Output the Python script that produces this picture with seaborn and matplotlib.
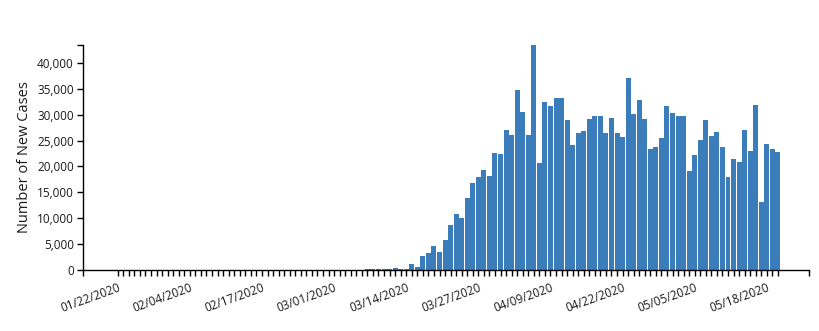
import matplotlib
matplotlib.use("Agg")
import matplotlib.pyplot as plt
import seaborn as sns
import pandas as pd
import numpy as np

# Daily new cases, 01/22/2020 .. 05/20/2020 (120 days)
start_date = "2020-01-22"
n_days = 120
new_cases = (
    [0] * 39 +                                        # 01/22 .. 02/29
    [10, 20, 25, 30, 60, 90, 100, 110] +              # 03/01 .. 03/08
    [200, 200, 200, 390, 200, 200, 1160, 580, 2700,   # 03/09 .. 03/17
     3280, 4640, 3480, 5800, 8690, 10820, 10050,      # 03/18 .. 03/24
     13910, 16810, 17970, 19320, 18160, 22600, 22410, # 03/25 .. 03/31
     27050, 26080, 34780, 30530, 26080, 43438, 20670, # 04/01 .. 04/07
     32460, 31680, 33230, 33230, 28980, 24150, 26470, # 04/08 .. 04/14
     26850, 29170, 29750, 29750, 26470, 29370, 26470, # 04/15 .. 04/21
     25700, 37090, 30140, 32840, 29170, 23380, 23760, # 04/22 .. 04/28
     25500, 31680, 30330, 29750, 29750, 19130, 22220, # 04/29 .. 05/05
     25120, 28980, 25890, 26660, 23760, 17970, 21450, # 05/06 .. 05/12
     20870, 27050, 22990, 31880, 13140, 24340, 23380, # 05/13 .. 05/19
     22800]                                           # 05/20
)
dates = pd.date_range(start_date, periods=n_days, freq="D")
date_labels = [d.strftime("%m/%d/%Y") for d in dates]
label_every = 13
y_ticks = [0, 5000, 10000, 15000, 20000, 25000, 30000, 35000, 40000]
y_label = "Number of New Cases"

df = pd.DataFrame({"date": date_labels, "cases": new_cases})

sns.set_style("white")
plt.rcParams["font.family"] = ["Open Sans", "DejaVu Sans"]

W, H = 819, 331
fig = plt.figure(figsize=(W / 100, H / 100), dpi=100)
ax_left, ax_right, ax_top, ax_bottom = 83, 809, 45, 270
ax = fig.add_axes([ax_left / W, (H - ax_bottom) / H,
                   (ax_right - ax_left) / W, (ax_bottom - ax_top) / H])

bar_color = "#3a7dba"
sns.barplot(data=df, x="date", y="cases", order=date_labels, color=bar_color,
            saturation=1, width=0.9, ax=ax, linewidth=0)

x_lo, x_hi = -6.26, 124.6
y_hi = max(new_cases)
ax.set_xlim(x_lo, x_hi)
ax.set_ylim(0, y_hi)

# day ticks plus the axis-end (outer) ticks
ax.set_xticks([x_lo] + list(range(n_days)) + [x_hi])
ax.set_xticklabels([""] + [lab if i % label_every == 0 else "" for i, lab in enumerate(date_labels)] + [""],
                   rotation=20, ha="right", rotation_mode="anchor")
ax.set_yticks(y_ticks + [y_hi])
ax.set_yticklabels([f"{v:,}" for v in y_ticks] + [""])

text_color = "#1a1a1a"
ax.tick_params(axis="both", which="both", length=4.2, width=1, color="black",
               labelsize=8.5, labelcolor=text_color, direction="out", pad=2.5)
ax.tick_params(axis="x", pad=4)
ax.tick_params(left=True, bottom=True)

ax.set_xlabel("")
ax.set_ylabel(y_label, fontsize=10.5, color=text_color)
ax.yaxis.set_label_coords((25 - ax_left) / (ax_right - ax_left), 0.5)
ax.yaxis.label.set_va("center")

for side in ["top", "right"]:
    ax.spines[side].set_visible(False)
for side in ["left", "bottom"]:
    ax.spines[side].set_color("black")
    ax.spines[side].set_linewidth(1)

ax.grid(False)
fig.savefig("out.png", dpi=100)
